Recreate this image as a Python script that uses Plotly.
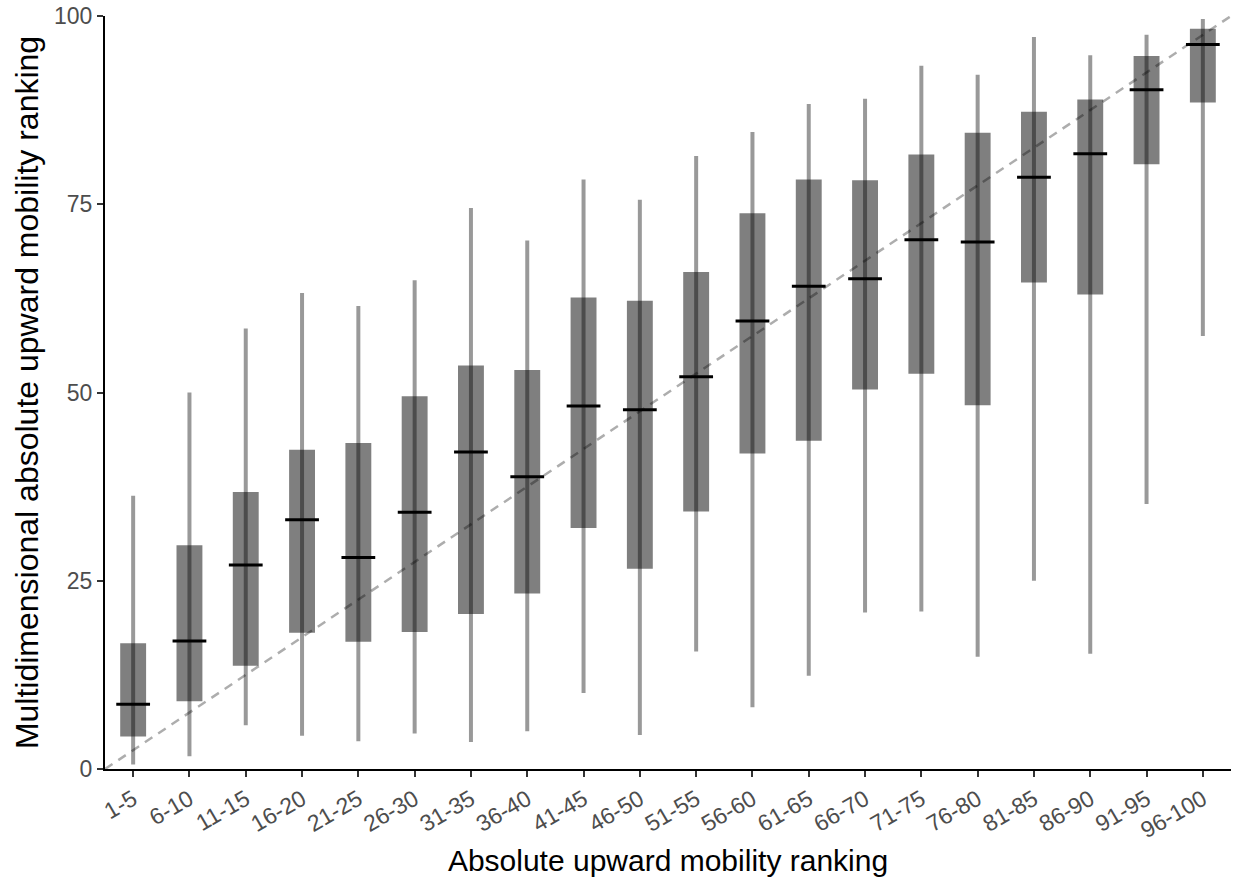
import plotly.graph_objects as go

categories = ["1-5", "6-10", "11-15", "16-20", "21-25", "26-30", "31-35", "36-40",
              "41-45", "46-50", "51-55", "56-60", "61-65", "66-70", "71-75", "76-80",
              "81-85", "86-90", "91-95", "96-100"]
whisker_low = [0.6, 1.7, 5.8, 4.4, 3.7, 4.7, 3.6, 5.0, 10.1, 4.5, 15.6, 8.2, 12.4, 20.8,
               20.9, 14.9, 25.0, 15.3, 35.2, 57.5]
box_low = [4.3, 9.0, 13.7, 18.1, 16.9, 18.2, 20.6, 23.3, 32.0, 26.6, 34.2, 41.9, 43.6, 50.4,
           52.5, 48.3, 64.6, 63.0, 80.3, 88.5]
median = [8.6, 17.0, 27.1, 33.1, 28.1, 34.1, 42.1, 38.8, 48.2, 47.7, 52.1, 59.5, 64.1, 65.1,
          70.3, 70.0, 78.6, 81.7, 90.2, 96.2]
box_high = [16.7, 29.7, 36.8, 42.4, 43.3, 49.5, 53.6, 53.0, 62.6, 62.2, 66.0, 73.8, 78.3, 78.2,
            81.6, 84.5, 87.3, 88.9, 94.7, 98.3]
whisker_high = [36.3, 50.0, 58.5, 63.2, 61.5, 64.9, 74.5, 70.2, 78.3, 75.6, 81.4, 84.6, 88.3,
                89.0, 93.4, 92.2, 97.2, 94.8, 97.5, 99.6]

# identity reference line (y = x on the ranking scale)
ref_x = [0.5, len(categories) + 0.5]
ref_y = [0, 100]

xpos = list(range(1, len(categories) + 1))

wx, wy = [], []
for x, lo, hi in zip(xpos, whisker_low, whisker_high):
    wx += [x, x, None]
    wy += [lo, hi, None]

mx, my = [], []
half = 0.30
for x, m in zip(xpos, median):
    mx += [x - half, x + half, None]
    my += [m, m, None]

FONT = "Liberation Sans, Arial, Helvetica, sans-serif"

fig = go.Figure()
fig.add_trace(go.Scatter(x=wx, y=wy, mode="lines",
                         line=dict(color="rgba(0,0,0,0.4)", width=4),
                         hoverinfo="skip"))
fig.add_trace(go.Bar(x=xpos, y=[h - l for h, l in zip(box_high, box_low)], base=box_low,
                     width=0.46, marker=dict(color="rgba(0,0,0,0.5)", line=dict(width=0))))
fig.add_trace(go.Scatter(x=ref_x, y=ref_y, mode="lines",
                         line=dict(color="rgba(0,0,0,0.32)", width=2.5, dash="9px,7px"),
                         hoverinfo="skip"))
fig.add_trace(go.Scatter(x=mx, y=my, mode="lines",
                         line=dict(color="black", width=3), hoverinfo="skip"))

axis_common = dict(
    showline=True, linecolor="black", linewidth=2,
    ticks="outside", ticklen=6, tickwidth=2, tickcolor="#333333",
    tickfont=dict(size=23, color="#4d4d4d", family=FONT),
    showgrid=False, zeroline=False,
)

fig.update_layout(
    width=1235, height=880,
    margin=dict(l=105, r=4, t=16, b=111),
    plot_bgcolor="white", paper_bgcolor="white",
    showlegend=False,
    font=dict(family=FONT),
    xaxis=dict(range=[0.5, len(categories) + 0.5], tickvals=xpos, ticktext=categories,
               tickangle=-30,
               title=dict(text="Absolute upward mobility ranking",
                          font=dict(size=30, color="black", family=FONT), standoff=8),
               **axis_common),
    yaxis=dict(range=[0, 100], tickvals=[0, 25, 50, 75, 100],
               title=dict(text="Multidimensional absolute upward mobility ranking",
                          font=dict(size=32, color="black", family=FONT), standoff=6),
               **axis_common),
)

fig.write_html("out.html")
